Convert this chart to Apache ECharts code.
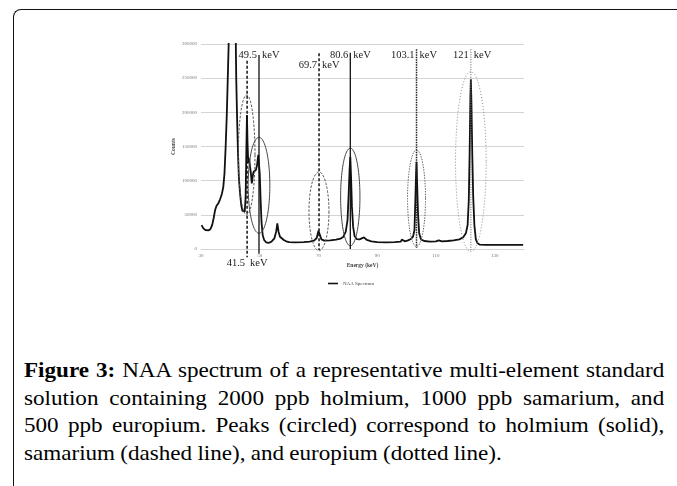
<!DOCTYPE html>
<html>
<head>
<meta charset="utf-8">
<script src="https://cdn.jsdelivr.net/npm/echarts@6/dist/echarts.min.js"></script>
<style>
  html, body { margin: 0; padding: 0; background: #fff; }
  body { width: 677px; height: 486px; position: relative; overflow: hidden; }
  .frame {
    position: absolute; left: 13px; top: 9px; width: 700px; height: 500px;
    border-top: 1.5px solid #111; border-left: 1.5px solid #111;
    border-top-left-radius: 8px; box-sizing: border-box;
  }
  #chart { position: absolute; left: 0; top: 0; width: 677px; height: 300px; }
  .caption {
    position: absolute; left: 24px; top: 357px; width: 582px;
    transform: scaleX(1.1); transform-origin: 0 0; word-spacing: -0.5px;
    font-family: 'Liberation Serif', serif; font-size: 21px; line-height: 27.7px; color: #000;
  }
  .caption div { text-align: justify; text-align-last: justify; white-space: nowrap; }
  .caption div.last { text-align-last: left; }
</style>
</head>
<body>
<div class="frame"></div>
<div id="chart"></div>
<div class="caption">
  <div><b>Figure 3:</b> NAA spectrum of a representative multi-element standard</div>
  <div>solution containing 2000 ppb holmium, 1000 ppb samarium, and</div>
  <div>500 ppb europium. Peaks (circled) correspond to holmium (solid),</div>
  <div class="last">samarium (dashed line), and europium (dotted line).</div>
</div>
<script>
// spectrum (keV, counts)
const energy = [
  30.2, 30.8, 31.5, 32.5, 33.2, 33.8, 34.3, 34.8, 35.3, 35.9, 36.5, 37.1, 37.6, 38.0, 38.4, 38.8,
  39.1, 39.4, 39.6, 40.0, 40.5, 41.0, 41.5, 41.8, 42.0, 42.3, 42.6, 42.9, 43.3, 43.7, 44.1, 44.5,
  44.9, 45.2, 45.45, 45.65, 45.85, 46.1, 46.4, 46.7, 47.0, 47.3, 47.6, 47.9, 48.3, 48.7, 49.1, 49.5,
  49.75, 50.0, 50.3, 50.6, 51.0, 51.5, 52.2, 53.0, 54.0, 55.0, 55.6, 56.0, 56.4, 56.9, 57.5, 58.2,
  59, 60, 62, 65, 67, 68.5, 69.4, 70.0, 70.2, 70.5, 71.0, 72, 74, 76, 77.5, 78.5,
  79.3, 79.9, 80.3, 80.6, 80.85, 81.1, 81.4, 81.8, 82.3, 83, 84, 85.5, 86.5, 88, 90, 93,
  96, 98, 98.4, 99.4, 100.5, 101.5, 102.2, 102.7, 103.0, 103.25, 103.4, 103.6, 103.9, 104.3, 104.9, 106,
  108, 110, 111, 112, 114, 116, 118, 119.3, 120.2, 120.8, 121.2, 121.5, 121.75, 121.9, 122.1, 122.4,
  122.7, 123.1, 123.6, 124.2, 125, 127, 130, 135, 139.7
]
const counts = [
  35000, 30200, 27800, 27300, 29000, 35000, 45000, 57000, 63400, 66800, 72700, 80500, 91000, 110700, 150000, 198500,
  247000, 296000, 360000, 480000, 520000, 500000, 420000, 320000, 250000, 190000, 140000, 104000, 81500, 64400, 56000, 53200,
  54600, 76600, 145000, 196000, 154600, 125400, 132700, 120500, 110700, 96100, 105900, 113200, 110700, 115600, 122900, 137600,
  140000, 110700, 71700, 40000, 20500, 13200, 9800, 8800, 10700, 15600, 25400, 37600, 25400, 18000, 16600, 13200,
  11200, 10200, 9800, 10200, 10700, 12200, 16100, 26800, 29300, 20500, 14100, 12200, 12700, 13700, 15100, 18000,
  25400, 42400, 81500, 115600, 135000, 105900, 62000, 32700, 19000, 14600, 14100, 17100, 13200, 11200, 10200, 9800,
  10200, 10700, 13700, 11200, 12700, 14600, 18000, 27800, 71700, 110700, 127800, 96100, 52200, 22900, 14100, 11700,
  10700, 11200, 12700, 11200, 11700, 12700, 14100, 17100, 22900, 35100, 71700, 145000, 222900, 248300, 213200, 135000,
  76600, 35100, 14100, 8300, 6300, 5900, 5900, 5900, 5900
]

const xTicks = [30, 50, 70, 90, 110, 130]

// peak markers: line position (keV), top / bottom of the line (counts), label
const markerEnergy = [45.7, 49.75, 70.2, 80.85, 103.4, 121.9]
const markerTop = [275600, 284000, 286300, 287300, 292200, 292200]
const markerBottom = [-12000, -7000, -1500, 0, 2000, -2000]
const markerLabel = ['41.5', '49.5', '69.7', '80.6', '103.1', '121']
const markerLabelAt = [-20500, 283600, 269000, 283600, 283600, 283600]
const markerKind = ['dashed', 'solid', 'dashed', 'solid', 'dense', 'dotted']

// circled peaks: centre and half sizes in axis units
const ringEnergy = [45.55, 49.75, 70.17, 80.84, 103.4, 121.9]
const ringCounts = [137600, 93200, 55100, 76100, 74100, 127800]
const ringHalfEnergy = [2.84, 3.69, 3.4, 3.29, 3.06, 5.22]
const ringHalfCounts = [87800, 70200, 57600, 71500, 70700, 131700]

const kindStyle = {
  solid: { stroke: '#111', lineWidth: 1.3, lineDash: null },
  dashed: { stroke: '#111', lineWidth: 1.5, lineDash: [3, 2] },
  dense: { stroke: '#222', lineWidth: 1.5, lineDash: [1.5, 1] },
  dotted: { stroke: '#777', lineWidth: 1.2, lineDash: [1, 1.5] }
}
const ringStyle = {
  solid: { stroke: '#444', lineWidth: 1, lineDash: null },
  dashed: { stroke: '#555', lineWidth: 1, lineDash: [2.5, 1.5] },
  dense: { stroke: '#666', lineWidth: 1, lineDash: [1.5, 1.2] },
  dotted: { stroke: '#888', lineWidth: 1, lineDash: [1, 2] }
}

const serif = '"Liberation Serif", "Times New Roman", serif'
const chart = echarts.init(document.getElementById('chart'))

function renderMarker(params, api) {
  const i = params.dataIndex
  const x = api.coord([api.value(0), 0])[0]
  const yTop = api.coord([api.value(0), api.value(1)])[1]
  const yBottom = api.coord([api.value(0), api.value(2)])[1]
  const yLabel = api.coord([api.value(0), api.value(3)])[1]
  const st = kindStyle[markerKind[i]]
  const font = '10.5px ' + serif
  return {
    type: 'group',
    children: [
      {
        type: 'line',
        shape: { x1: x, y1: yTop, x2: x, y2: yBottom },
        style: { stroke: st.stroke, lineWidth: st.lineWidth, lineDash: st.lineDash }
      },
      {
        type: 'text', x: x - 2, y: yLabel,
        style: { text: markerLabel[i], font: font, fill: '#222', align: 'right', verticalAlign: 'middle' }
      },
      {
        type: 'text', x: x + 3, y: yLabel,
        style: { text: 'keV', font: font, fill: '#222', align: 'left', verticalAlign: 'middle' }
      }
    ]
  }
}

function renderRing(params, api) {
  const i = params.dataIndex
  const c = api.coord([api.value(0), api.value(1)])
  const rx = api.size([api.value(2), 0])[0]
  const ry = api.size([0, api.value(3)])[1]
  const pts = []
  for (let k = 0; k < 96; k++) {
    const a = (k / 96) * Math.PI * 2
    pts.push([c[0] + rx * Math.cos(a), c[1] + ry * Math.sin(a)])
  }
  const st = ringStyle[markerKind[i]]
  return {
    type: 'polygon',
    shape: { points: pts },
    style: { fill: 'none', stroke: st.stroke, lineWidth: st.lineWidth, lineDash: st.lineDash }
  }
}

chart.setOption({
  animation: false,
  grid: { left: 201, top: 44, width: 323, height: 205 },
  legend: {
    data: ['NAA Spectrum'],
    left: 323, top: 276,
    icon: 'rect', itemWidth: 10, itemHeight: 1.6,
    textStyle: { fontSize: 5, fontFamily: serif, color: '#444' }
  },
  xAxis: {
    type: 'value', min: 30, max: 140,
    name: 'Energy (keV)', nameLocation: 'middle', nameGap: 11,
    nameTextStyle: { fontSize: 5.5, fontFamily: serif, fontWeight: 'bold', color: '#444' },
    axisLine: { show: true, lineStyle: { color: '#d4d4d4', width: 1 } },
    axisTick: { show: false },
    splitLine: { show: false },
    axisLabel: { customValues: xTicks, fontSize: 5, fontFamily: serif, color: '#777', margin: 4 }
  },
  yAxis: {
    type: 'value', min: 0, max: 300000, interval: 50000,
    name: 'Counts', nameLocation: 'middle', nameGap: 24, nameRotate: 90,
    nameTextStyle: { fontSize: 5.5, fontFamily: serif, fontWeight: 'bold', color: '#444' },
    axisLine: { show: false },
    axisTick: { show: false },
    splitLine: { lineStyle: { color: '#d4d4d4', width: 1 } },
    axisLabel: { fontSize: 5, fontFamily: serif, color: '#777', margin: 4, formatter: (v) => String(v) }
  },
  series: [
    {
      name: 'NAA Spectrum',
      type: 'line',
      data: energy.map((e, i) => [e, counts[i]]),
      showSymbol: false,
      clip: true,
      lineStyle: { color: '#111', width: 1.8 },
      itemStyle: { color: '#111' },
      z: 3
    },
    {
      type: 'custom',
      renderItem: renderRing,
      data: ringEnergy.map((e, i) => [e, ringCounts[i], ringHalfEnergy[i], ringHalfCounts[i]]),
      z: 4
    },
    {
      type: 'custom',
      renderItem: renderMarker,
      data: markerEnergy.map((e, i) => [e, markerTop[i], markerBottom[i], markerLabelAt[i]]),
      z: 5
    }
  ]
})
</script>
</body>
</html>
